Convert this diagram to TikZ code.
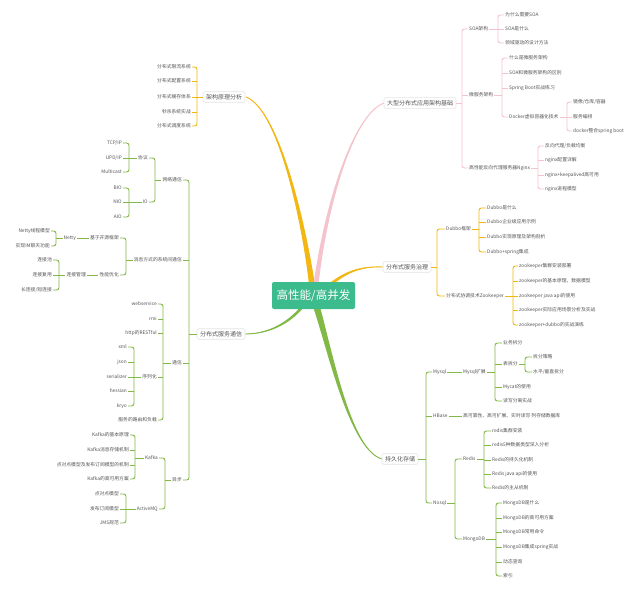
\documentclass[tikz,border=0pt]{standalone}
\usepackage{fontspec}
\setmainfont{Noto Sans CJK SC}
\usetikzlibrary{calc}
\definecolor{pinkc}{HTML}{F4C3CC}
\definecolor{yelc}{HTML}{F2B712}
\definecolor{grnc}{HTML}{82B846}
\definecolor{rootc}{HTML}{3CBB8D}
\definecolor{txtc}{HTML}{555555}
\definecolor{boxc}{HTML}{E4E4E4}
\newcommand\brR[4]{%
  \coordinate (bb) at (#2,0);
  \draw[rounded corners=2.5pt] (#3.west) -| (bb |- #1.east) |- (#4.west);
  \draw (#1.east) -- (bb |- #1.east);
}
\newcommand\brL[4]{%
  \coordinate (bb) at (#2,0);
  \draw[rounded corners=2.5pt] (#3.east) -| (bb |- #1.west) |- (#4.east);
  \draw (#1.west) -- (bb |- #1.west);
}
\newcommand\tkR[2]{\coordinate (bb) at (#1,0);\foreach \nn in {#2}{\draw (bb |- \nn.west) -- (\nn.west);}}
\newcommand\tkL[2]{\coordinate (bb) at (#1,0);\foreach \nn in {#2}{\draw (bb |- \nn.east) -- (\nn.east);}}
\newcommand\branch[6]{%
  \fill[#6] ($(#1)+(#5)$) .. controls ($(#2)+0.6*(#5)$) and ($(#3)+0.25*(#5)$) .. (#4)
    .. controls ($(#3)-0.25*(#5)$) and ($(#2)-0.6*(#5)$) .. ($(#1)-(#5)$) -- cycle;
  \draw[#6, line width=0.9pt] (#1) .. controls (#2) and (#3) .. (#4);
}
\tikzset{
  leaf/.style={font=\fontsize{4.8}{5.5}\selectfont, text=txtc, inner sep=1pt},
  lr/.style={leaf, anchor=west},
  ll/.style={leaf, anchor=east},
  lvone/.style={font=\fontsize{6}{7}\selectfont, text=txtc, draw=boxc, fill=white,
    rounded corners=1.5pt, inner xsep=3pt, inner ysep=2.5pt, line width=0.6pt},
  rootn/.style={fill=rootc, text=white, rounded corners=2pt, minimum width=83pt,
    minimum height=27pt, font=\fontsize{11.5}{13}\selectfont, inner sep=0pt},
  conn/.style={line width=0.9pt}
}
\begin{document}
\begin{tikzpicture}[x=1pt,y=-1pt]
\useasboundingbox (0,0) rectangle (640,594);
\fill[white] (0,0) rectangle (640,594);

% main branches
\branch{312,285}{305,230}{280,110}{246,97}{3,0}{yelc}
\branch{316,285}{325,210}{352,115}{384,103}{2.5,0}{pinkc}
\branch{326,288}{345,272}{360,266}{383,267}{0,2.2}{yelc}
\branch{303,306}{290,322}{270,334}{245,334}{0,2.2}{grnc}
\branch{316,305}{330,350}{350,450}{382,459}{3.5,0}{grnc}

\node[rootn] (R) at (313.5,295.5) {高性能/高并发};

% ---------- top-left: 架构原理分析
\node[lvone] (A) at (224,97) {架构原理分析};
\node[ll] (A1) at (192,67) {分布式限流系统};
\node[ll] (A2) at (192,81) {分布式配置系统};
\node[ll] (A3) at (192,97) {分布式缓存体系};
\node[ll] (A4) at (192,112) {秒杀系统实战};
\node[ll] (A5) at (192,126) {分布式调度系统};

% ---------- left: 分布式服务通信
\node[lvone] (B) at (221,334) {分布式服务通信};
\node[ll] (B1) at (183,180) {网络通信};
\node[ll] (B2) at (183,260) {消息方式的系统间通信};
\node[ll] (B3) at (183,363) {通信};
\node[ll] (B4) at (183,480) {异步};
\node[ll] (B11) at (149,158) {协议};
\node[ll] (B12) at (149,202) {IO};
\node[ll] (B111) at (123,143) {TCP/IP};
\node[ll] (B112) at (123,158) {UPD/IP};
\node[ll] (B113) at (123,172) {Multicast};
\node[ll] (B121) at (123,188) {BIO};
\node[ll] (B122) at (123,202) {NIO};
\node[ll] (B123) at (123,217) {AIO};
\node[ll] (B21) at (120,238) {基于开源框架};
\node[ll] (B22) at (120,275) {性能优化};
\node[ll] (B211) at (77,238) {Netty};
\node[ll] (B2111) at (51,231) {Netty线程模型};
\node[ll] (B2112) at (51,246) {实现IM聊天功能};
\node[ll] (B221) at (87,275) {连接管理};
\node[ll] (B2211) at (53,260) {连接池};
\node[ll] (B2212) at (53,275) {连接复用};
\node[ll] (B2213) at (53,290) {长连接/短连接};
\node[ll] (B31) at (158,304) {webservice};
\node[ll] (B32) at (158,319) {rmi};
\node[ll] (B33) at (158,333) {http的RESTful};
\node[ll] (B34) at (158,377) {序列化};
\node[ll] (B35) at (158,420) {服务的路由和负载};
\node[ll] (B341) at (128,347) {xml};
\node[ll] (B342) at (128,362) {json};
\node[ll] (B343) at (128,377) {serializer};
\node[ll] (B344) at (128,391) {hessian};
\node[ll] (B345) at (128,406) {kryo};
\node[ll] (B41) at (159,458) {Kafka};
\node[ll] (B42) at (159,509) {ActiveMQ};
\node[ll] (B411) at (130,435) {Kafka的基本原理};
\node[ll] (B412) at (130,450) {Kafka消息存储机制};
\node[ll] (B413) at (130,465) {点对点模型及发布订阅模型的机制};
\node[ll] (B414) at (130,479) {Kafka的高可用方案};
\node[ll] (B421) at (120,494) {点对点模型};
\node[ll] (B422) at (120,509) {发布订阅模型};
\node[ll] (B423) at (120,523) {JMS规范};

% ---------- right top: 大型分布式应用架构基础
\node[lvone] (C) at (420,103) {大型分布式应用架构基础};
\node[lr] (C1) at (468,29) {SOA架构};
\node[lr] (C2) at (468,95) {微服务架构};
\node[lr] (C3) at (468,168) {高性能反向代理服务器Nginx};
\node[lr] (C11) at (504,15) {为什么需要SOA};
\node[lr] (C12) at (504,29) {SOA是什么};
\node[lr] (C13) at (504,43) {领域驱动的设计方法};
\node[lr] (C21) at (508,58) {什么是微服务架构};
\node[lr] (C22) at (508,73) {SOA和微服务架构的区别};
\node[lr] (C23) at (508,88) {Spring Boot实战练习};
\node[lr] (C24) at (508,117) {Docker虚拟容器化技术};
\node[lr] (C241) at (572,102) {镜像/仓库/容器};
\node[lr] (C242) at (572,117) {服务编排};
\node[lr] (C243) at (572,131) {docker整合spring boot};
\node[lr] (C31) at (544,146) {反向代理/负载均衡};
\node[lr] (C32) at (544,160) {nginx配置详解};
\node[lr] (C33) at (544,175) {nginx+keepalived高可用};
\node[lr] (C34) at (544,189) {nginx进程模型};

% ---------- right middle: 分布式服务治理
\node[lvone] (D) at (407,267) {分布式服务治理};
\node[lr] (D1) at (445,229) {Dubbo框架};
\node[lr] (D2) at (445,296) {分布式协调技术Zookeeper};
\node[lr] (D11) at (486,208) {Dubbo是什么};
\node[lr] (D12) at (486,222) {Dubbo企业级应用示例};
\node[lr] (D13) at (486,237) {Dubbo实现原理及架构剖析};
\node[lr] (D14) at (486,252) {Dubbo+spring集成};
\node[lr] (D21) at (518,266) {zookeeper集群安装部署};
\node[lr] (D22) at (518,281) {zookeeper的基本原理，数据模型};
\node[lr] (D23) at (518,296) {zookeeper java api的使用};
\node[lr] (D24) at (518,310) {zookeeper实际应用场景分析及实战};
\node[lr] (D25) at (518,325) {zookeeper+dubbo的实战演练};

% ---------- right bottom: 持久化存储
\node[lvone] (E) at (400,459) {持久化存储};
\node[lr] (E1) at (432,372) {Mysql};
\node[lr] (E2) at (432,416) {HBase};
\node[lr] (E3) at (432,503) {Nosql};
\node[lr] (E11) at (462,372) {Mysql扩展};
\node[lr] (E111) at (502,343) {业务拆分};
\node[lr] (E112) at (502,364) {表拆分};
\node[lr] (E113) at (502,387) {Mycat的使用};
\node[lr] (E114) at (502,401) {读写分离实战};
\node[lr] (E1121) at (532,357) {拆分策略};
\node[lr] (E1122) at (532,372) {水平/垂直拆分};
\node[lr] (E21) at (462,416) {高可靠性、高可扩展、实时读写 列存储数据库};
\node[lr] (E31) at (462,459) {Redis};
\node[lr] (E32) at (462,539) {MongoDB};
\node[lr] (E311) at (491,431) {redis集群安装};
\node[lr] (E312) at (491,445) {redis5种数据类型深入分析};
\node[lr] (E313) at (491,460) {Redis的持久化机制};
\node[lr] (E314) at (491,474) {Redis java api的使用};
\node[lr] (E315) at (491,488) {Redis的主从机制};
\node[lr] (E321) at (502,503) {MongoDB是什么};
\node[lr] (E322) at (502,518) {MongoDB的高可用方案};
\node[lr] (E323) at (502,532) {MongoDB常用命令};
\node[lr] (E324) at (502,547) {MongoDB集成spring实战};
\node[lr] (E325) at (502,562) {动态查询};
\node[lr] (E326) at (502,576) {索引};

% ---------- connectors
\begin{scope}[draw=yelc, conn]
  \brL{A}{197}{A1}{A5} \tkL{197}{A2,A3,A4}
  \brR{D}{437}{D1}{D2}
  \brR{D1}{479}{D11}{D14} \tkR{479}{D12,D13}
  \brR{D2}{513}{D21}{D25} \tkR{513}{D22,D23,D24}
\end{scope}
\begin{scope}[draw=pinkc, conn]
  \brR{C}{462}{C1}{C3} \tkR{462}{C2}
  \brR{C1}{498}{C11}{C13} \tkR{498}{C12}
  \brR{C2}{502}{C21}{C24} \tkR{502}{C22,C23}
  \brR{C24}{567}{C241}{C243} \tkR{567}{C242}
  \brR{C3}{538}{C31}{C34} \tkR{538}{C32,C33}
\end{scope}
\begin{scope}[draw=grnc, conn]
  \brL{B}{189}{B1}{B4} \tkL{189}{B2,B3}
  \brL{B1}{155}{B11}{B12}
  \brL{B11}{129}{B111}{B113} \tkL{129}{B112}
  \brL{B12}{129}{B121}{B123} \tkL{129}{B122}
  \brL{B2}{126}{B21}{B22}
  \draw (B21.west) -- (B211.east);
  \brL{B211}{56}{B2111}{B2112}
  \draw (B22.west) -- (B221.east);
  \brL{B221}{59}{B2211}{B2213} \tkL{59}{B2212}
  \brL{B3}{163}{B31}{B35} \tkL{163}{B32,B33,B34}
  \brL{B34}{134}{B341}{B345} \tkL{134}{B342,B343,B344}
  \brL{B4}{165}{B41}{B42}
  \brL{B41}{135}{B411}{B414} \tkL{135}{B412,B413}
  \brL{B42}{126}{B421}{B423} \tkL{126}{B422}
  \brR{E}{426}{E1}{E3} \tkR{426}{E2}
  \draw (E1.east) -- (E11.west);
  \brR{E11}{495}{E111}{E114} \tkR{495}{E112,E113}
  \brR{E112}{525}{E1121}{E1122}
  \draw (E2.east) -- (E21.west);
  \brR{E3}{455}{E31}{E32}
  \brR{E31}{484}{E311}{E315} \tkR{484}{E312,E313,E314}
  \brR{E32}{496}{E321}{E326} \tkR{496}{E322,E323,E324,E325}
\end{scope}
\end{tikzpicture}
\end{document}
